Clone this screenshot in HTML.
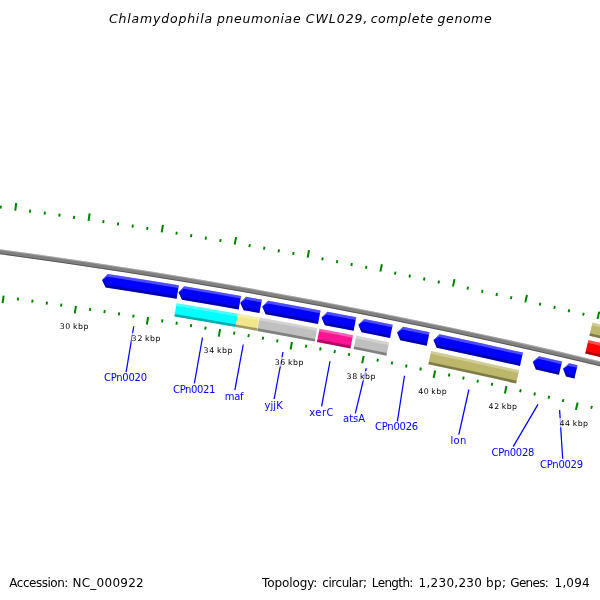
<!DOCTYPE html>
<html lang="en"><head><meta charset="utf-8"><title>Chlamydophila pneumoniae CWL029, complete genome</title>
<style>html,body{margin:0;padding:0;background:#fff}body{width:600px;height:600px;overflow:hidden}svg{display:block}text{font-family:"DejaVu Sans","Liberation Sans",sans-serif}</style></head><body>
<svg width="600" height="600" viewBox="0 0 600 600">
<rect width="600" height="600" fill="#fff"/>
<g id="backbone">
<path d="M-99.71 236.67 A6026.2 6026.2 0 0 1 695.28 384.78 L694.04 389.63 A6021.2 6021.2 0 0 0 -100.29 241.63 Z" fill="#808080"/>
<path d="M-99.71 236.67 A6026.2 6026.2 0 0 1 695.28 384.78 L695.03 385.75 A6025.2 6025.2 0 0 0 -99.83 237.66 Z" fill="rgba(255,255,255,0.3)"/>
<path d="M-100.18 240.64 A6022.2 6022.2 0 0 1 694.29 388.66 L694.04 389.63 A6021.2 6021.2 0 0 0 -100.29 241.63 Z" fill="rgba(0,0,0,0.33)"/>
</g>
<g id="ticks" stroke="#008000" stroke-linecap="butt">
<path d="M-58.23 200.98 L-57.29 193.44" stroke-width="2.0"/>
<path d="M-68.77 286.13 L-69.70 293.67" stroke-width="2.0"/>
<path d="M-43.53 202.82 L-43.15 199.84" stroke-width="1.9"/>
<path d="M-54.28 287.94 L-54.65 290.92" stroke-width="1.9"/>
<path d="M-28.84 204.69 L-28.45 201.72" stroke-width="1.9"/>
<path d="M-39.79 289.79 L-40.17 292.76" stroke-width="1.9"/>
<path d="M-14.15 206.60 L-13.76 203.63" stroke-width="1.9"/>
<path d="M-25.31 291.67 L-25.70 294.65" stroke-width="1.9"/>
<path d="M0.54 208.55 L0.94 205.57" stroke-width="1.9"/>
<path d="M-10.83 293.59 L-11.23 296.56" stroke-width="1.9"/>
<path d="M15.22 210.53 L16.24 203.00" stroke-width="2.0"/>
<path d="M3.64 295.54 L2.61 303.07" stroke-width="2.0"/>
<path d="M29.89 212.54 L30.31 209.57" stroke-width="1.9"/>
<path d="M18.11 297.53 L17.69 300.50" stroke-width="1.9"/>
<path d="M44.56 214.60 L44.98 211.63" stroke-width="1.9"/>
<path d="M32.57 299.55 L32.15 302.53" stroke-width="1.9"/>
<path d="M59.23 216.69 L59.65 213.72" stroke-width="1.9"/>
<path d="M47.03 301.61 L46.60 304.58" stroke-width="1.9"/>
<path d="M73.89 218.81 L74.32 215.84" stroke-width="1.9"/>
<path d="M61.48 303.71 L61.04 306.68" stroke-width="1.9"/>
<path d="M88.54 220.97 L89.66 213.45" stroke-width="2.0"/>
<path d="M75.93 305.84 L74.81 313.35" stroke-width="2.0"/>
<path d="M103.19 223.17 L103.64 220.20" stroke-width="1.9"/>
<path d="M90.37 308.00 L89.92 310.97" stroke-width="1.9"/>
<path d="M117.83 225.40 L118.29 222.43" stroke-width="1.9"/>
<path d="M104.80 310.20 L104.35 313.17" stroke-width="1.9"/>
<path d="M132.47 227.67 L132.94 224.70" stroke-width="1.9"/>
<path d="M119.24 312.44 L118.77 315.40" stroke-width="1.9"/>
<path d="M147.11 229.97 L147.58 227.01" stroke-width="1.9"/>
<path d="M133.66 314.71 L133.19 317.67" stroke-width="1.9"/>
<path d="M161.73 232.31 L162.94 224.80" stroke-width="2.0"/>
<path d="M148.08 317.01 L146.87 324.52" stroke-width="2.0"/>
<path d="M176.35 234.68 L176.84 231.72" stroke-width="1.9"/>
<path d="M162.50 319.36 L162.01 322.32" stroke-width="1.9"/>
<path d="M190.97 237.09 L191.46 234.13" stroke-width="1.9"/>
<path d="M176.90 321.73 L176.41 324.69" stroke-width="1.9"/>
<path d="M205.58 239.54 L206.08 236.58" stroke-width="1.9"/>
<path d="M191.31 324.14 L190.81 327.10" stroke-width="1.9"/>
<path d="M220.18 242.02 L220.69 239.06" stroke-width="1.9"/>
<path d="M205.70 326.59 L205.20 329.55" stroke-width="1.9"/>
<path d="M234.78 244.54 L236.08 237.05" stroke-width="2.0"/>
<path d="M220.10 329.07 L218.79 336.56" stroke-width="2.0"/>
<path d="M249.37 247.09 L249.89 244.14" stroke-width="1.9"/>
<path d="M234.48 331.59 L233.96 334.54" stroke-width="1.9"/>
<path d="M263.96 249.68 L264.48 246.73" stroke-width="1.9"/>
<path d="M248.86 334.14 L248.33 337.09" stroke-width="1.9"/>
<path d="M278.53 252.30 L279.07 249.35" stroke-width="1.9"/>
<path d="M263.23 336.73 L262.70 339.68" stroke-width="1.9"/>
<path d="M293.11 254.96 L293.65 252.01" stroke-width="1.9"/>
<path d="M277.60 339.35 L277.06 342.30" stroke-width="1.9"/>
<path d="M307.67 257.66 L309.06 250.19" stroke-width="2.0"/>
<path d="M291.96 342.01 L290.56 349.48" stroke-width="2.0"/>
<path d="M322.23 260.39 L322.79 257.44" stroke-width="1.9"/>
<path d="M306.31 344.70 L305.75 347.65" stroke-width="1.9"/>
<path d="M336.78 263.16 L337.35 260.21" stroke-width="1.9"/>
<path d="M320.66 347.43 L320.09 350.37" stroke-width="1.9"/>
<path d="M351.33 265.96 L351.90 263.01" stroke-width="1.9"/>
<path d="M335.00 350.19 L334.42 353.13" stroke-width="1.9"/>
<path d="M365.87 268.79 L366.45 265.85" stroke-width="1.9"/>
<path d="M349.33 352.99 L348.75 355.93" stroke-width="1.9"/>
<path d="M380.40 271.67 L381.88 264.21" stroke-width="2.0"/>
<path d="M363.65 355.82 L362.17 363.27" stroke-width="2.0"/>
<path d="M394.92 274.58 L395.52 271.64" stroke-width="1.9"/>
<path d="M377.97 358.69 L377.38 361.63" stroke-width="1.9"/>
<path d="M409.44 277.52 L410.04 274.58" stroke-width="1.9"/>
<path d="M392.29 361.59 L391.69 364.53" stroke-width="1.9"/>
<path d="M423.95 280.50 L424.56 277.56" stroke-width="1.9"/>
<path d="M406.59 364.53 L405.98 367.46" stroke-width="1.9"/>
<path d="M438.45 283.51 L439.07 280.58" stroke-width="1.9"/>
<path d="M420.89 367.50 L420.27 370.43" stroke-width="1.9"/>
<path d="M452.95 286.56 L454.52 279.13" stroke-width="2.0"/>
<path d="M435.18 370.50 L433.60 377.94" stroke-width="2.0"/>
<path d="M467.44 289.65 L468.07 286.72" stroke-width="1.9"/>
<path d="M449.46 373.55 L448.83 376.48" stroke-width="1.9"/>
<path d="M481.92 292.77 L482.55 289.84" stroke-width="1.9"/>
<path d="M463.74 376.62 L463.10 379.55" stroke-width="1.9"/>
<path d="M496.39 295.93 L497.03 293.00" stroke-width="1.9"/>
<path d="M478.01 379.73 L477.36 382.66" stroke-width="1.9"/>
<path d="M510.85 299.12 L511.50 296.19" stroke-width="1.9"/>
<path d="M492.27 382.88 L491.62 385.81" stroke-width="1.9"/>
<path d="M525.31 302.35 L526.98 294.93" stroke-width="2.0"/>
<path d="M506.52 386.06 L504.85 393.48" stroke-width="2.0"/>
<path d="M539.76 305.61 L540.43 302.68" stroke-width="1.9"/>
<path d="M520.76 389.28 L520.10 392.20" stroke-width="1.9"/>
<path d="M554.20 308.91 L554.87 305.98" stroke-width="1.9"/>
<path d="M535.00 392.53 L534.33 395.45" stroke-width="1.9"/>
<path d="M568.64 312.24 L569.31 309.32" stroke-width="1.9"/>
<path d="M549.23 395.81 L548.55 398.74" stroke-width="1.9"/>
<path d="M583.06 315.61 L583.75 312.69" stroke-width="1.9"/>
<path d="M563.45 399.13 L562.76 402.06" stroke-width="1.9"/>
<path d="M597.48 319.01 L599.23 311.61" stroke-width="2.0"/>
<path d="M577.66 402.49 L575.91 409.88" stroke-width="2.0"/>
<path d="M611.88 322.45 L612.58 319.53" stroke-width="1.9"/>
<path d="M591.87 405.88 L591.17 408.80" stroke-width="1.9"/>
<path d="M626.28 325.92 L626.99 323.01" stroke-width="1.9"/>
<path d="M606.06 409.30 L605.36 412.22" stroke-width="1.9"/>
<path d="M640.68 329.43 L641.39 326.52" stroke-width="1.9"/>
<path d="M620.25 412.76 L619.54 415.68" stroke-width="1.9"/>
<path d="M655.06 332.97 L655.78 330.06" stroke-width="1.9"/>
<path d="M634.43 416.26 L633.71 419.17" stroke-width="1.9"/>
<path d="M669.43 336.55 L671.28 329.18" stroke-width="2.0"/>
<path d="M648.60 419.78 L646.76 427.16" stroke-width="2.0"/>
</g>
<g id="genes">
<path d="M102.06 279.99 L107.74 273.93 A6017.1 6017.1 0 0 1 178.87 285.26 L176.63 298.78 A6003.4 6003.4 0 0 0 105.67 287.47 Z" fill="#0000ff"/>
<path d="M102.06 279.99 L107.74 273.93 A6017.1 6017.1 0 0 1 178.87 285.26 L178.42 287.97 A6014.3 6014.3 0 0 0 107.32 276.64 Z" fill="rgba(255,255,255,0.3)"/>
<path d="M102.06 279.99 L106.08 284.76 A6006.1 6006.1 0 0 1 177.08 296.07 L176.63 298.78 A6003.4 6003.4 0 0 0 105.67 287.47 Z" fill="rgba(0,0,0,0.33)"/>
<path d="M178.51 292.15 L184.27 286.16 A6017.1 6017.1 0 0 1 241.07 295.89 L238.69 309.38 A6003.4 6003.4 0 0 0 182.02 299.67 Z" fill="#0000ff"/>
<path d="M178.51 292.15 L184.27 286.16 A6017.1 6017.1 0 0 1 241.07 295.89 L240.59 298.59 A6014.3 6014.3 0 0 0 183.82 288.86 Z" fill="rgba(255,255,255,0.3)"/>
<path d="M178.51 292.15 L182.47 296.97 A6006.1 6006.1 0 0 1 239.17 306.68 L238.69 309.38 A6003.4 6003.4 0 0 0 182.02 299.67 Z" fill="rgba(0,0,0,0.33)"/>
<path d="M240.24 302.70 L246.06 296.77 A6017.1 6017.1 0 0 1 261.90 299.60 L259.47 313.08 A6003.4 6003.4 0 0 0 243.67 310.26 Z" fill="#0000ff"/>
<path d="M240.24 302.70 L246.06 296.77 A6017.1 6017.1 0 0 1 261.90 299.60 L261.41 302.30 A6014.3 6014.3 0 0 0 245.58 299.47 Z" fill="rgba(255,255,255,0.3)"/>
<path d="M240.24 302.70 L244.15 307.56 A6006.1 6006.1 0 0 1 259.96 310.39 L259.47 313.08 A6003.4 6003.4 0 0 0 243.67 310.26 Z" fill="rgba(0,0,0,0.33)"/>
<path d="M262.24 306.62 L268.08 300.71 A6017.1 6017.1 0 0 1 320.55 310.45 L317.99 323.91 A6003.4 6003.4 0 0 0 265.64 314.20 Z" fill="#0000ff"/>
<path d="M262.24 306.62 L268.08 300.71 A6017.1 6017.1 0 0 1 320.55 310.45 L320.04 313.14 A6014.3 6014.3 0 0 0 267.59 303.41 Z" fill="rgba(255,255,255,0.3)"/>
<path d="M262.24 306.62 L266.13 311.50 A6006.1 6006.1 0 0 1 318.50 321.22 L317.99 323.91 A6003.4 6003.4 0 0 0 265.64 314.20 Z" fill="rgba(0,0,0,0.33)"/>
<path d="M321.54 317.61 L327.44 311.77 A6017.1 6017.1 0 0 1 356.25 317.35 L353.61 330.80 A6003.4 6003.4 0 0 0 324.87 325.22 Z" fill="#0000ff"/>
<path d="M321.54 317.61 L327.44 311.77 A6017.1 6017.1 0 0 1 356.25 317.35 L355.73 320.04 A6014.3 6014.3 0 0 0 326.93 314.46 Z" fill="rgba(255,255,255,0.3)"/>
<path d="M321.54 317.61 L325.38 322.53 A6006.1 6006.1 0 0 1 354.14 328.11 L353.61 330.80 A6003.4 6003.4 0 0 0 324.87 325.22 Z" fill="rgba(0,0,0,0.33)"/>
<path d="M358.32 324.74 L364.25 318.93 A6017.1 6017.1 0 0 1 392.74 324.64 L390.02 338.06 A6003.4 6003.4 0 0 0 361.60 332.37 Z" fill="#0000ff"/>
<path d="M358.32 324.74 L364.25 318.93 A6017.1 6017.1 0 0 1 392.74 324.64 L392.20 327.32 A6014.3 6014.3 0 0 0 363.72 321.62 Z" fill="rgba(255,255,255,0.3)"/>
<path d="M358.32 324.74 L362.13 329.68 A6006.1 6006.1 0 0 1 390.56 335.38 L390.02 338.06 A6003.4 6003.4 0 0 0 361.60 332.37 Z" fill="rgba(0,0,0,0.33)"/>
<path d="M397.06 332.51 L403.03 326.73 A6017.1 6017.1 0 0 1 429.54 332.22 L426.73 345.63 A6003.4 6003.4 0 0 0 400.29 340.16 Z" fill="#0000ff"/>
<path d="M397.06 332.51 L403.03 326.73 A6017.1 6017.1 0 0 1 429.54 332.22 L428.98 334.90 A6014.3 6014.3 0 0 0 402.48 329.42 Z" fill="rgba(255,255,255,0.3)"/>
<path d="M397.06 332.51 L400.84 337.47 A6006.1 6006.1 0 0 1 427.30 342.95 L426.73 345.63 A6003.4 6003.4 0 0 0 400.29 340.16 Z" fill="rgba(0,0,0,0.33)"/>
<path d="M433.52 340.06 L439.53 334.32 A6017.1 6017.1 0 0 1 523.00 352.56 L519.98 365.93 A6003.4 6003.4 0 0 0 436.70 347.73 Z" fill="#0000ff"/>
<path d="M433.52 340.06 L439.53 334.32 A6017.1 6017.1 0 0 1 523.00 352.56 L522.39 355.24 A6014.3 6014.3 0 0 0 438.97 337.00 Z" fill="rgba(255,255,255,0.3)"/>
<path d="M433.52 340.06 L437.27 345.05 A6006.1 6006.1 0 0 1 520.58 363.25 L519.98 365.93 A6003.4 6003.4 0 0 0 436.70 347.73 Z" fill="rgba(0,0,0,0.33)"/>
<path d="M532.79 361.81 L538.90 356.18 A6017.1 6017.1 0 0 1 562.05 361.53 L558.95 374.87 A6003.4 6003.4 0 0 0 535.84 369.54 Z" fill="#0000ff"/>
<path d="M532.79 361.81 L538.90 356.18 A6017.1 6017.1 0 0 1 562.05 361.53 L561.43 364.20 A6014.3 6014.3 0 0 0 538.29 358.85 Z" fill="rgba(255,255,255,0.3)"/>
<path d="M532.79 361.81 L536.45 366.86 A6006.1 6006.1 0 0 1 559.57 372.20 L558.95 374.87 A6003.4 6003.4 0 0 0 535.84 369.54 Z" fill="rgba(0,0,0,0.33)"/>
<path d="M563.04 368.79 L569.17 363.19 A6017.1 6017.1 0 0 1 577.57 365.17 L574.43 378.50 A6003.4 6003.4 0 0 0 566.05 376.53 Z" fill="#0000ff"/>
<path d="M563.04 368.79 L569.17 363.19 A6017.1 6017.1 0 0 1 577.57 365.17 L576.95 367.83 A6014.3 6014.3 0 0 0 568.55 365.86 Z" fill="rgba(255,255,255,0.3)"/>
<path d="M563.04 368.79 L566.67 373.86 A6006.1 6006.1 0 0 1 575.06 375.83 L574.43 378.50 A6003.4 6003.4 0 0 0 566.05 376.53 Z" fill="rgba(0,0,0,0.33)"/>
<path d="M588.38 340.08 A6044.0 6044.0 0 0 1 695.13 366.37 L698.00 374.18 L691.74 379.64 A6030.3 6030.3 0 0 0 585.23 353.41 Z" fill="#ff0000"/>
<path d="M588.38 340.08 A6044.0 6044.0 0 0 1 695.13 366.37 L694.45 369.02 A6041.2 6041.2 0 0 0 587.75 342.75 Z" fill="rgba(255,255,255,0.3)"/>
<path d="M585.86 350.74 A6033.0 6033.0 0 0 1 692.42 376.99 L691.74 379.64 A6030.3 6030.3 0 0 0 585.23 353.41 Z" fill="rgba(0,0,0,0.33)"/>
</g>
<g id="cogs">
<path d="M176.64 303.24 A5999.0 5999.0 0 0 1 237.93 313.72 L235.58 327.06 A5985.4 5985.4 0 0 0 174.42 316.61 Z" fill="#00ffff"/>
<path d="M176.64 303.24 A5999.0 5999.0 0 0 1 237.93 313.72 L237.46 316.38 A5996.3 5996.3 0 0 0 176.19 305.91 Z" fill="rgba(255,255,255,0.3)"/>
<path d="M174.87 313.93 A5988.1 5988.1 0 0 1 236.05 324.39 L235.58 327.06 A5985.4 5985.4 0 0 0 174.42 316.61 Z" fill="rgba(0,0,0,0.33)"/>
<path d="M237.93 313.72 A5999.0 5999.0 0 0 1 259.27 317.52 L256.87 330.85 A5985.4 5985.4 0 0 0 235.58 327.06 Z" fill="#f0e68c"/>
<path d="M237.93 313.72 A5999.0 5999.0 0 0 1 259.27 317.52 L258.79 320.18 A5996.3 5996.3 0 0 0 237.46 316.38 Z" fill="rgba(255,255,255,0.3)"/>
<path d="M236.05 324.39 A5988.1 5988.1 0 0 1 257.35 328.19 L256.87 330.85 A5985.4 5985.4 0 0 0 235.58 327.06 Z" fill="rgba(0,0,0,0.33)"/>
<path d="M259.63 317.58 A5999.0 5999.0 0 0 1 317.28 328.25 L314.75 341.57 A5985.4 5985.4 0 0 0 257.23 330.92 Z" fill="#c0c0c0"/>
<path d="M259.63 317.58 A5999.0 5999.0 0 0 1 317.28 328.25 L316.77 330.92 A5996.3 5996.3 0 0 0 259.15 320.25 Z" fill="rgba(255,255,255,0.3)"/>
<path d="M257.71 328.25 A5988.1 5988.1 0 0 1 315.25 338.90 L314.75 341.57 A5985.4 5985.4 0 0 0 257.23 330.92 Z" fill="rgba(0,0,0,0.33)"/>
<path d="M319.51 328.68 A5999.0 5999.0 0 0 1 353.05 335.17 L350.44 348.47 A5985.4 5985.4 0 0 0 316.97 341.99 Z" fill="#ff1493"/>
<path d="M319.51 328.68 A5999.0 5999.0 0 0 1 353.05 335.17 L352.53 337.83 A5996.3 5996.3 0 0 0 319.00 331.34 Z" fill="rgba(255,255,255,0.3)"/>
<path d="M317.48 339.33 A5988.1 5988.1 0 0 1 350.96 345.81 L350.44 348.47 A5985.4 5985.4 0 0 0 316.97 341.99 Z" fill="rgba(0,0,0,0.33)"/>
<path d="M356.18 335.78 A5999.0 5999.0 0 0 1 389.07 342.36 L386.38 355.64 A5985.4 5985.4 0 0 0 353.56 349.08 Z" fill="#c0c0c0"/>
<path d="M356.18 335.78 A5999.0 5999.0 0 0 1 389.07 342.36 L388.53 345.02 A5996.3 5996.3 0 0 0 355.65 338.44 Z" fill="rgba(255,255,255,0.3)"/>
<path d="M354.08 346.42 A5988.1 5988.1 0 0 1 386.92 352.98 L386.38 355.64 A5985.4 5985.4 0 0 0 353.56 349.08 Z" fill="rgba(0,0,0,0.33)"/>
<path d="M431.10 351.04 A5999.0 5999.0 0 0 1 519.11 370.24 L516.13 383.46 A5985.4 5985.4 0 0 0 428.31 364.30 Z" fill="#bdb76b"/>
<path d="M431.10 351.04 A5999.0 5999.0 0 0 1 519.11 370.24 L518.52 372.89 A5996.3 5996.3 0 0 0 430.54 353.70 Z" fill="rgba(255,255,255,0.3)"/>
<path d="M428.87 361.65 A5988.1 5988.1 0 0 1 516.72 380.82 L516.13 383.46 A5985.4 5985.4 0 0 0 428.31 364.30 Z" fill="rgba(0,0,0,0.33)"/>
<path d="M592.51 322.61 A6061.9 6061.9 0 0 1 704.17 350.16 L700.80 363.28 A6048.4 6048.4 0 0 0 589.39 335.80 Z" fill="#bdb76b"/>
<path d="M592.51 322.61 A6061.9 6061.9 0 0 1 704.17 350.16 L703.50 352.78 A6059.2 6059.2 0 0 0 591.89 325.25 Z" fill="rgba(255,255,255,0.3)"/>
<path d="M590.02 333.16 A6051.1 6051.1 0 0 1 701.48 360.66 L700.80 363.28 A6048.4 6048.4 0 0 0 589.39 335.80 Z" fill="rgba(0,0,0,0.33)"/>
</g>
<g id="lines" stroke="#0000ff" stroke-width="1.25">
<path d="M133.75 326.25 L126.12 372.04"/>
<path d="M202.50 337.50 L194.36 383.29"/>
<path d="M243.25 344.50 L234.85 390.04"/>
<path d="M283.00 352.00 L274.10 399.04"/>
<path d="M330.00 361.25 L321.60 406.29"/>
<path d="M366.25 368.25 L355.31 413.28"/>
<path d="M404.50 375.75 L397.38 421.29"/>
<path d="M468.90 389.50 L458.83 434.68"/>
<path d="M538.00 404.40 L513.20 446.69"/>
<path d="M559.60 410.00 L562.65 458.80"/>
</g>
<g id="tickbg" fill="#fff" fill-opacity="0.7">
<rect x="59.5" y="321.0" width="29.5" height="9.5"/>
<rect x="131.5" y="333.0" width="29.5" height="9.5"/>
<rect x="203.5" y="345.0" width="29.5" height="9.5"/>
<rect x="274.5" y="357.0" width="29.5" height="9.5"/>
<rect x="346.5" y="371.0" width="29.5" height="9.5"/>
<rect x="417.8" y="386.0" width="29.5" height="9.5"/>
<rect x="488.0" y="401.0" width="29.5" height="9.5"/>
<rect x="559.0" y="418.0" width="29.5" height="9.5"/>
</g>
<g id="texts">
<text y="23.00" font-size="12.5" fill="#000" font-style="italic"><tspan x="109.01" textLength="103.10" lengthAdjust="spacing">Chlamydophila</tspan> <tspan x="217.00" textLength="83.60" lengthAdjust="spacing">pneumoniae</tspan> <tspan x="305.79" textLength="61.63" lengthAdjust="spacing">CWL029,</tspan> <tspan x="370.65" textLength="62.46" lengthAdjust="spacing">complete</tspan> <tspan x="437.59" textLength="54.00" lengthAdjust="spacing">genome</tspan></text>
<text y="587.00" font-size="12" fill="#000"><tspan x="9.36" textLength="58.94" lengthAdjust="spacing">Accession:</tspan> <tspan x="72.49" textLength="71.24" lengthAdjust="spacing">NC_000922</tspan></text>
<text y="587.00" font-size="12" fill="#000"><tspan x="262.00" textLength="55.31" lengthAdjust="spacing">Topology:</tspan> <tspan x="322.37" textLength="44.60" lengthAdjust="spacing">circular;</tspan> <tspan x="371.87" textLength="41.50" lengthAdjust="spacing">Length:</tspan> <tspan x="418.61" textLength="63.21" lengthAdjust="spacing">1,230,230</tspan> <tspan x="486.05" textLength="19.97" lengthAdjust="spacing">bp;</tspan> <tspan x="510.32" textLength="38.43" lengthAdjust="spacing">Genes:</tspan> <tspan x="554.61" textLength="34.98" lengthAdjust="spacing">1,094</tspan></text>
<text y="329.00" font-size="7.8" fill="#000"><tspan x="59.82" textLength="10.40" lengthAdjust="spacing">30</tspan> <tspan x="73.06" textLength="15.50" lengthAdjust="spacing">kbp</tspan></text>
<text y="341.00" font-size="7.8" fill="#000"><tspan x="131.60" textLength="10.92" lengthAdjust="spacing">32</tspan> <tspan x="145.06" textLength="15.50" lengthAdjust="spacing">kbp</tspan></text>
<text y="353.00" font-size="7.8" fill="#000"><tspan x="203.60" textLength="10.73" lengthAdjust="spacing">34</tspan> <tspan x="217.06" textLength="15.50" lengthAdjust="spacing">kbp</tspan></text>
<text y="365.00" font-size="7.8" fill="#000"><tspan x="274.82" textLength="10.40" lengthAdjust="spacing">36</tspan> <tspan x="288.06" textLength="15.50" lengthAdjust="spacing">kbp</tspan></text>
<text y="379.00" font-size="7.8" fill="#000"><tspan x="346.60" textLength="10.69" lengthAdjust="spacing">38</tspan> <tspan x="360.06" textLength="15.50" lengthAdjust="spacing">kbp</tspan></text>
<text y="394.00" font-size="7.8" fill="#000"><tspan x="418.27" textLength="10.37" lengthAdjust="spacing">40</tspan> <tspan x="431.30" textLength="15.39" lengthAdjust="spacing">kbp</tspan></text>
<text y="409.00" font-size="7.8" fill="#000"><tspan x="488.42" textLength="10.72" lengthAdjust="spacing">42</tspan> <tspan x="501.85" textLength="15.06" lengthAdjust="spacing">kbp</tspan></text>
<text y="426.00" font-size="7.8" fill="#000"><tspan x="559.42" textLength="10.48" lengthAdjust="spacing">44</tspan> <tspan x="572.85" textLength="15.06" lengthAdjust="spacing">kbp</tspan></text>
<text y="380.75" font-size="10" fill="#0000ff"><tspan x="103.91" textLength="43.13" lengthAdjust="spacing">CPn0020</tspan></text>
<text y="392.50" font-size="10" fill="#0000ff"><tspan x="173.07" textLength="42.20" lengthAdjust="spacing">CPn0021</tspan></text>
<text y="399.50" font-size="10" fill="#0000ff"><tspan x="224.80" textLength="18.83" lengthAdjust="spacing">maf</tspan></text>
<text y="408.75" font-size="10" fill="#0000ff"><tspan x="264.62" textLength="18.07" lengthAdjust="spacing">yjjK</tspan></text>
<text y="415.50" font-size="10" fill="#0000ff"><tspan x="309.35" textLength="24.08" lengthAdjust="spacing">xerC</tspan></text>
<text y="421.50" font-size="10" fill="#0000ff"><tspan x="343.00" textLength="22.12" lengthAdjust="spacing">atsA</tspan></text>
<text y="430.00" font-size="10" fill="#0000ff"><tspan x="375.07" textLength="43.06" lengthAdjust="spacing">CPn0026</tspan></text>
<text y="443.50" font-size="10" fill="#0000ff"><tspan x="450.61" textLength="15.67" lengthAdjust="spacing">lon</tspan></text>
<text y="455.60" font-size="10" fill="#0000ff"><tspan x="491.45" textLength="42.90" lengthAdjust="spacing">CPn0028</tspan></text>
<text y="467.60" font-size="10" fill="#0000ff"><tspan x="540.08" textLength="43.00" lengthAdjust="spacing">CPn0029</tspan></text>
</g>
</svg></body></html>
